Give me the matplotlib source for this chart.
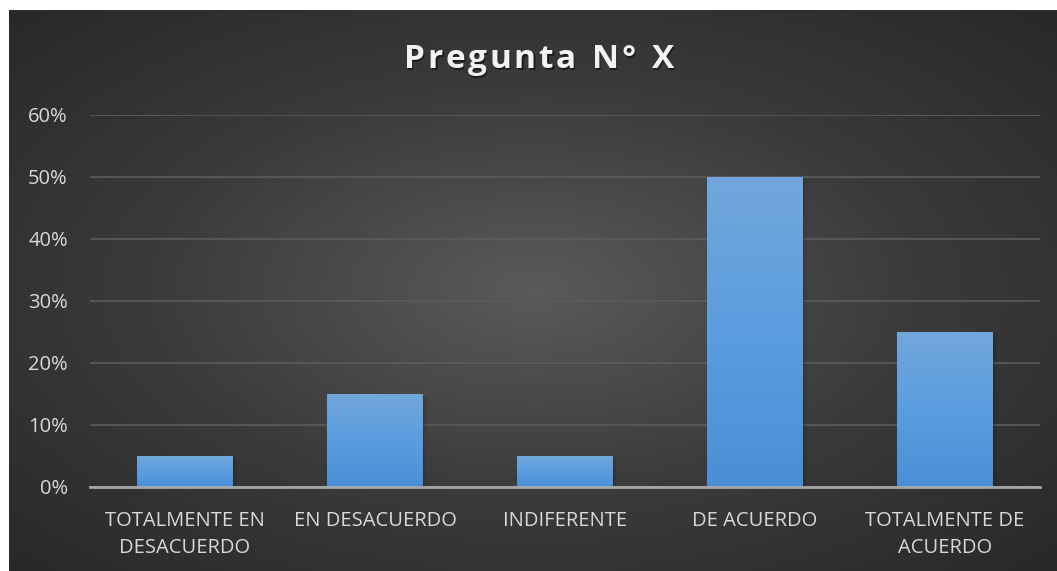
import numpy as np
import matplotlib
matplotlib.use('Agg')
import matplotlib.pyplot as plt
from matplotlib.colors import LinearSegmentedColormap

# Data
categories = ['TOTALMENTE EN\nDESACUERDO', 'EN DESACUERDO', 'INDIFERENTE', 'DE ACUERDO', 'TOTALMENTE DE\nACUERDO']
values = [0.05, 0.15, 0.05, 0.50, 0.25]
yticks = [0, 0.1, 0.2, 0.3, 0.4, 0.5, 0.6]
ytick_labels = ['0%', '10%', '20%', '30%', '40%', '50%', '60%']
title = 'Pregunta N° X'

W, H = 1057, 571
fig = plt.figure(figsize=(W / 100, H / 100), dpi=100)
fig.patch.set_facecolor('white')

# Dark radial-gradient background
bg = fig.add_axes([9 / W, 0, (W - 9) / W, (H - 10) / H])
bg.set_axis_off()
yy, xx = np.mgrid[0:1:300j, 0:1:560j]
r = np.sqrt(((xx - 0.5) / 0.75) ** 2 + ((yy - 0.5) / 0.75) ** 2)
r = np.clip(r, 0, 1)
bg_cmap = LinearSegmentedColormap.from_list('bg', ['#5a5a5a', '#3a3a3a', '#262626'])
bg.imshow(r, cmap=bg_cmap, aspect='auto', extent=[0, 1, 0, 1], vmin=0, vmax=1)

# Main axes
ax = fig.add_axes([90 / W, 84 / H, 950 / W, (487 - 115) / H])
ax.patch.set_alpha(0)
x = np.arange(len(categories))

bars = ax.bar(x, values, width=0.505, color='#5b9bd5', zorder=3)
# gradient fill on bars
bar_cmap = LinearSegmentedColormap.from_list('bar', ['#4a8fd6', '#5b9de0', '#72a7db'])
grad = np.linspace(0, 1, 256).reshape(-1, 1)
for b in bars:
    bx, by = b.get_x(), b.get_y()
    bw, bh = b.get_width(), b.get_height()
    im = ax.imshow(grad, cmap=bar_cmap, aspect='auto', origin='lower',
                   extent=[bx, bx + bw, by, by + bh], zorder=3)
    im.set_clip_path(b)
    # soft shadow
    for k, a in enumerate([0.10, 0.06, 0.03]):
        d = 0.008 * (k + 1)
        ax.bar(bx + bw / 2 + d, bh, width=bw, bottom=-0.004, color='black', alpha=a, zorder=2)
ax.set_xlim(-0.5, len(categories) - 0.5)
ax.set_ylim(0, 0.6)

ax.set_yticks(yticks)
ax.set_yticklabels(ytick_labels)
ax.set_xticks(x)
ax.set_xticklabels(categories, linespacing=1.5)
ax.tick_params(axis='both', length=0, colors='#d9d9d9', labelsize=14.5)
ax.tick_params(axis='y', pad=16)
ax.tick_params(axis='x', pad=17)
for lbl in ax.get_xticklabels() + ax.get_yticklabels():
    lbl.set_fontfamily('Open Sans')

ax.grid(axis='y', color='#5c5c5c', linewidth=1.2, zorder=0)
for s in ['top', 'right', 'left']:
    ax.spines[s].set_visible(False)
ax.spines['bottom'].set_color('#a6a6a6')
ax.spines['bottom'].set_linewidth(2)
ax.spines['bottom'].set_zorder(4)

# Title with letter spacing and light shadow
renderer = fig.canvas.get_renderer()
tprops = dict(fontsize=24, fontweight='bold', fontfamily='Open Sans', va='center', ha='left')
spacing = 2.6
widths = []
for ch in title:
    t = fig.text(0, 0, ch if ch != ' ' else 'n', **tprops)
    w = t.get_window_extent(renderer).width
    if ch == ' ':
        w *= 0.5
    widths.append(w)
    t.remove()
total = sum(widths) + spacing * (len(title) - 1)
cx, cy = 539, H - 60
px = cx - total / 2
for ch, w in zip(title, widths):
    if ch != ' ':
        fig.text((px + 1.5) / W, (cy - 2) / H, ch, color='black', alpha=0.5, **tprops)
        fig.text(px / W, cy / H, ch, color='#f2f2f2', **tprops)
    px += w + spacing

fig.savefig('out.png', dpi=100, facecolor=fig.get_facecolor())
